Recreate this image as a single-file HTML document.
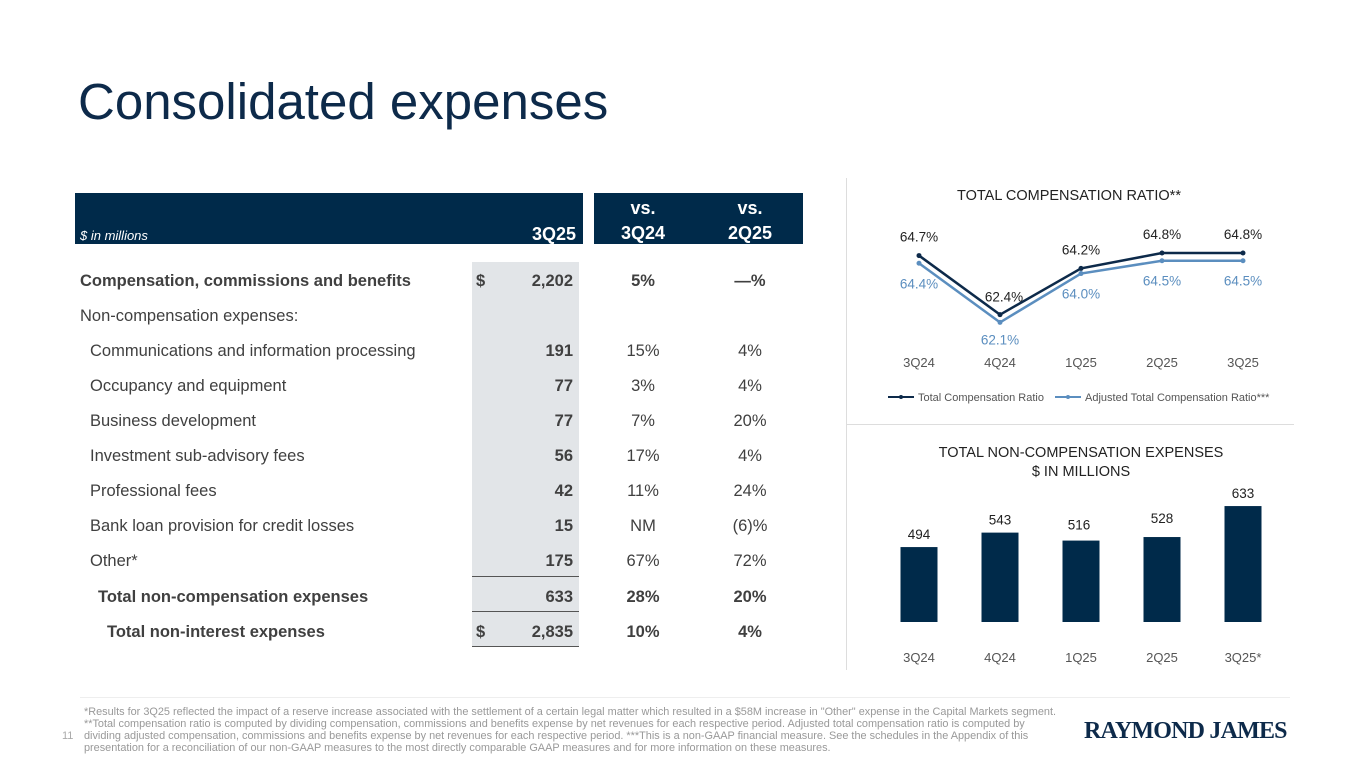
<!DOCTYPE html>
<html><head><meta charset="utf-8"><style>
body{margin:0;width:1365px;height:768px;background:#fff;font-family:"Liberation Sans",Arial,sans-serif;position:relative;overflow:hidden}
.a{position:absolute;white-space:nowrap}
.t{color:#404040;font-size:16.5px}
.b{font-weight:bold}
.r{text-align:right}
.c{text-align:center}
</style></head><body>
<div class="a" style="left:78px;top:72px;font-size:51px;color:#0d2a4a">Consolidated expenses</div>

<div class="a" style="left:75px;top:193px;width:508px;height:51px;background:#002a4a"></div>
<div class="a" style="left:594px;top:193px;width:209px;height:51px;background:#002a4a"></div>
<div class="a" style="left:80px;top:228px;font-size:13px;font-style:italic;color:#fff">$ in millions</div>
<div class="a b r" style="left:480px;width:96px;top:224px;font-size:18px;color:#fff">3Q25</div>
<div class="a b c" style="left:603px;width:80px;top:196px;font-size:18px;color:#fff;line-height:25px">vs.<br>3Q24</div>
<div class="a b c" style="left:710px;width:80px;top:196px;font-size:18px;color:#fff;line-height:25px">vs.<br>2Q25</div>
<div class="a" style="left:472px;top:262px;width:107px;height:384px;background:#e2e5e8"></div>
<div class="a" style="left:472px;top:576px;width:107px;height:1px;background:#555"></div>
<div class="a" style="left:472px;top:611px;width:107px;height:1px;background:#555"></div>
<div class="a" style="left:472px;top:646px;width:107px;height:1px;background:#555"></div>
<div id="rows"></div>

<div class="a" style="left:846px;top:178px;width:1px;height:492px;background:#ddd"></div>
<div class="a" style="left:846px;top:424px;width:448px;height:1px;background:#ddd"></div>
<div class="a" style="left:80px;top:697px;width:1210px;height:1px;background:#eee"></div>

<svg class="a" style="left:0;top:0" width="1365" height="768" id="ch">
<text x="1069" y="200" text-anchor="middle" font-size="14.5" fill="#222">TOTAL COMPENSATION RATIO**</text>
<text x="1081" y="457" text-anchor="middle" font-size="14.5" fill="#222">TOTAL NON-COMPENSATION EXPENSES</text>
<text x="1081" y="476" text-anchor="middle" font-size="14.5" fill="#222">$ IN MILLIONS</text>
<g>
<line x1="888" y1="397" x2="914" y2="397" stroke="#0d2a4a" stroke-width="2"/><circle cx="901" cy="397" r="2" fill="#0d2a4a"/>
<text x="918" y="401" font-size="11" fill="#555">Total Compensation Ratio</text>
<line x1="1055" y1="397" x2="1081" y2="397" stroke="#5b8ebf" stroke-width="2"/><circle cx="1068" cy="397" r="2" fill="#5b8ebf"/>
<text x="1085" y="401" font-size="11" fill="#555">Adjusted Total Compensation Ratio***</text>
</g>
</svg>

<div class="a" style="left:62px;top:730px;font-size:11px;color:#aaa">11</div>
<div class="a" style="left:84px;top:706px;width:975px;white-space:normal;font-size:10.9px;line-height:12px;color:#999">*Results for 3Q25 reflected the impact of a reserve increase associated with the settlement of a certain legal matter which resulted in a $58M increase in "Other" expense in the Capital Markets segment. **Total compensation ratio is computed by dividing compensation, commissions and benefits expense by net revenues for each respective period. Adjusted total compensation ratio is computed by dividing adjusted compensation, commissions and benefits expense by net revenues for each respective period. ***This is a non-GAAP financial measure. See the schedules in the Appendix of this presentation for a reconciliation of our non-GAAP measures to the most directly comparable GAAP measures and for more information on these measures.</div>
<div class="a" style="left:1084px;top:718px;font-family:'Liberation Serif',serif;font-weight:bold;font-size:24px;color:#0d2a4a;letter-spacing:-0.8px">RAYMOND JAMES</div>

<script>
const rowLabels=["Compensation, commissions and benefits","Non-compensation expenses:","Communications and information processing","Occupancy and equipment","Business development","Investment sub-advisory fees","Professional fees","Bank loan provision for credit losses","Other*","Total non-compensation expenses","Total non-interest expenses"];
const rowVals=["2,202","","191","77","77","56","42","15","175","633","2,835"];
const rowVs3q24=["5%","","15%","3%","7%","17%","11%","NM","67%","28%","10%"];
const rowVs2q25=["—%","","4%","4%","20%","4%","24%","(6)%","72%","20%","4%"];
const rowIndent=[0,0,10,10,10,10,10,10,10,18,27];
const rowBold=[1,0,0,0,0,0,0,0,0,1,1];
const rowDollar=[1,0,0,0,0,0,0,0,0,0,1];
const R=document.getElementById('rows');
rowLabels.forEach((l,i)=>{
  const y=272+i*35+(i>=9?1:0);
  const mk=(txt,st,name)=>{const d=document.createElement('div');d.className='a t'+(rowBold[i]?' b':'');d.style.cssText=st+';top:'+y+'px';d.textContent=txt;
    
    
    R.appendChild(d);};
  mk(l,'left:'+(80+rowIndent[i])+'px','row-label');
  if(rowVals[i]){mk(rowVals[i],'left:470px;width:103px;text-align:right;font-weight:bold','row-value');}
  if(rowDollar[i])mk('$','left:476px;font-weight:bold','dollar-sign');
  mk(rowVs3q24[i],'left:603px;width:80px;text-align:center','row-vs-3q24');
  mk(rowVs2q25[i],'left:710px;width:80px;text-align:center','row-vs-2q25');
});

const quarters=["3Q24","4Q24","1Q25","2Q25","3Q25"];
const totalRatio=[64.7,62.4,64.2,64.8,64.8];
const adjRatio=[64.4,62.1,64.0,64.5,64.5];
const barQuarters=["3Q24","4Q24","1Q25","2Q25","3Q25*"];
const nonComp=[494,543,516,528,633];
const svg=document.getElementById('ch');const NS='http://www.w3.org/2000/svg';
const xq=i=>919+i*81;
const yl=v=>253+(64.8-v)*25.7;
const yb=v=>622-(v-240)*0.295;
function el(t,a,name){const e=document.createElementNS(NS,t);for(const k in a)e.setAttribute(k,a[k]);
  
  
  svg.appendChild(e);return e;}
function txt(x,y,s,fill,size,name){const e=el('text',{x:x,y:y,'text-anchor':'middle','font-size':size,fill:fill},name);e.textContent=s;}
[[adjRatio,'#5b8ebf','adjusted-line'],[totalRatio,'#0d2a4a','total-line']].forEach(([d,c,n])=>{
  el('polyline',{points:d.map((v,i)=>xq(i)+','+yl(v)).join(' '),fill:'none',stroke:c,'stroke-width':2.5},n);
  d.forEach((v,i)=>el('circle',{cx:xq(i),cy:yl(v),r:2.5,fill:c},n+'-point'));
});
totalRatio.forEach((v,i)=>txt(xq(i)+(i==1?4:0),i==1?yl(v)-13:yl(v)-14,v.toFixed(1)+'%','#222',13.5,'total-label'));
adjRatio.forEach((v,i)=>txt(xq(i),i==1?yl(v)+22:yl(v)+25,v.toFixed(1)+'%','#5b8ebf',13.5,'adjusted-label'));
quarters.forEach((q,i)=>txt(xq(i),367,q,'#555',13,'line-x-label'));
nonComp.forEach((v,i)=>{
  el('rect',{x:xq(i)-18.5,y:yb(v),width:37,height:622-yb(v),fill:'#002a4a'},'bar-'+barQuarters[i]);
  txt(xq(i)+(i==2?-2:0),yb(v)-(i==2||i==3?11:8)+(i==3?-3:0),String(v),'#222',13.5,'bar-value');
  txt(xq(i),662,barQuarters[i],'#555',13,'bar-x-label');
});
</script>
</body></html>
